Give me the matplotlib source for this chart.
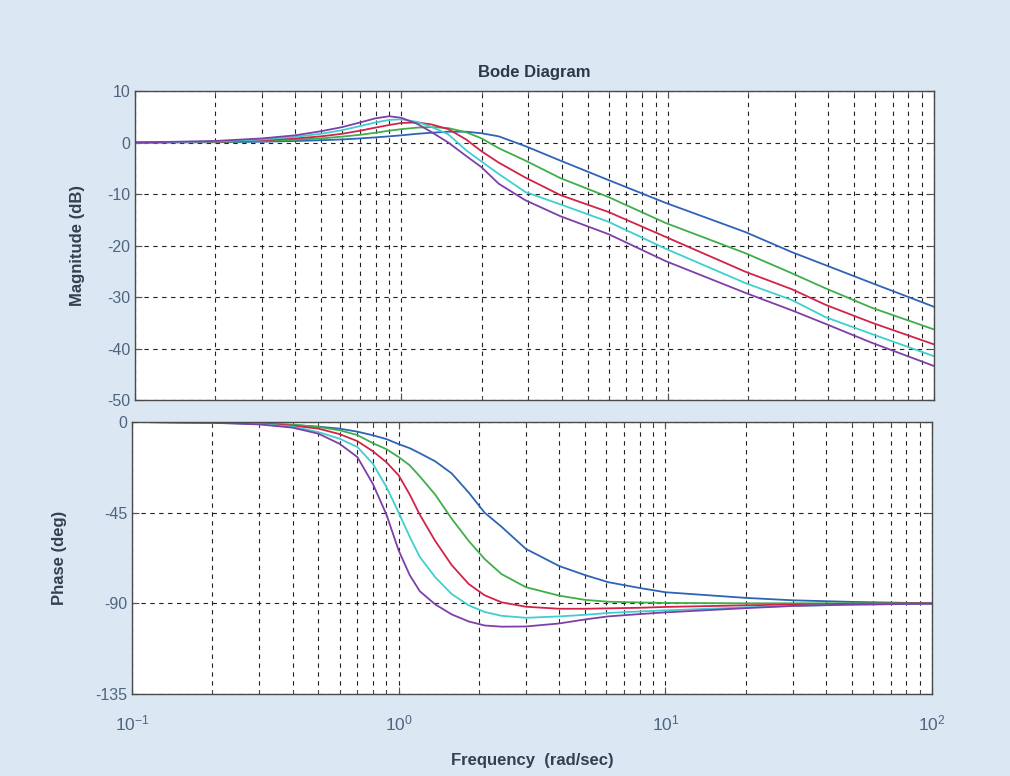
import matplotlib
matplotlib.use('Agg')
import matplotlib.pyplot as plt
from matplotlib.ticker import LogLocator, NullFormatter, FixedLocator

plt.rcParams['font.family'] = ['Liberation Sans', 'DejaVu Sans']
plt.rcParams['axes.unicode_minus'] = False

# frequency grids (rad/sec) where values were read
w_mag = [0.1, 0.2, 0.3, 0.4, 0.5, 0.6, 0.7, 0.8, 0.9, 1.0, 1.15, 1.3, 1.5, 1.75,
         2.0, 2.32, 2.92, 3.95, 6.0, 9.8, 19.6, 29.3, 39.1, 58.5, 100]
w_ph = [0.1, 0.2, 0.3, 0.4, 0.5, 0.6, 0.7, 0.8, 0.9, 1.0, 1.1, 1.2, 1.37, 1.58,
        1.83, 2.1, 2.43, 3.0, 4.0, 5.0, 6.1, 8.1, 10, 20, 30, 50, 100]

# magnitude (dB)
mag_blue = [0, 0.05, 0.15, 0.3, 0.45, 0.6, 0.8, 1.0, 1.2, 1.4, 1.7, 1.9, 2.1, 2.1,
            1.8, 1.2, -0.7, -3.5, -7.3, -11.7, -17.4, -21.3, -23.8, -27.3, -31.9]
mag_green = [0, 0.1, 0.3, 0.55, 0.8, 1.15, 1.5, 1.9, 2.3, 2.6, 2.9, 3.0, 2.8, 2.0,
             0.8, -1.1, -3.5, -6.9, -10.6, -15.6, -21.5, -25.4, -28.3, -32.1, -36.3]
mag_red = [0, 0.15, 0.45, 0.8, 1.2, 1.7, 2.3, 2.9, 3.4, 3.8, 3.9, 3.5, 2.6, 0.6,
           -1.7, -3.9, -6.8, -10.2, -13.5, -18.3, -25.1, -28.5, -31.5, -35.0, -39.2]
mag_cyan = [0, 0.2, 0.6, 1.1, 1.7, 2.4, 3.2, 3.9, 4.4, 4.5, 4.0, 3.0, 1.6, -1.5,
            -3.7, -6.1, -9.6, -12.0, -15.4, -20.6, -27.3, -30.6, -33.9, -37.2, -41.5]
mag_purple = [0, 0.3, 0.8, 1.4, 2.2, 3.0, 3.9, 4.7, 5.1, 4.8, 3.6, 2.0, 0.0, -2.6,
              -4.8, -8.0, -11.2, -14.3, -17.8, -23.0, -29.2, -32.6, -35.2, -38.9, -43.4]

# phase (deg)
ph_blue = [0, -0.3, -0.8, -1.5, -2.3, -3.3, -4.8, -6.6, -8.5, -11, -13, -15.5, -19.5,
           -25.5, -35, -45, -52, -63, -71.5, -76, -79.5, -82.5, -84.5, -87.3, -88.5,
           -89.3, -90]
ph_green = [0, -0.2, -0.6, -1.3, -2.5, -4.1, -6.5, -10.5, -13.5, -17.4, -21.5, -27,
            -36, -48, -59, -68, -75.5, -82, -86.2, -88.3, -89.2, -89.6, -89.8, -90,
            -90, -90, -90]
ph_red = [0, -0.2, -0.8, -1.8, -3.3, -6.0, -9.5, -14.5, -20, -26.5, -36, -46, -59,
          -71, -80.4, -86, -89.5, -91.7, -92.7, -92.7, -92.5, -92.2, -91.8, -91,
          -90.6, -90.3, -90]
ph_cyan = [0, -0.3, -1.0, -2.3, -5, -8.3, -12.4, -20.7, -32.3, -45, -57, -67, -77,
           -85.4, -91, -94.3, -96.2, -97.2, -96.5, -95.7, -94.8, -94, -93.5, -92,
           -91.3, -90.7, -90.2]
ph_purple = [0, -0.4, -1.2, -2.8, -5.8, -10.8, -17.4, -30.7, -46, -63.8, -76, -84,
             -90.5, -95.5, -99, -101, -101.6, -101.5, -100, -98, -96.5, -95.3, -94.5,
             -92.4, -91.3, -90.6, -90.2]

colors = ['#2e64b8', '#3fae49', '#d2234a', '#3fcfcf', '#7d3fa8']
mags = [mag_blue, mag_green, mag_red, mag_cyan, mag_purple]
phases = [ph_blue, ph_green, ph_red, ph_cyan, ph_purple]

mag_ticks = [10, 0, -10, -20, -30, -40, -50]
ph_ticks = [0, -45, -90, -135]

tick_color = '#4f6480'
label_color = '#34404e'
grid_kw = dict(color='#222222', linestyle=(0, (4, 4)), linewidth=0.8)

fig = plt.figure(figsize=(10.1, 7.76), dpi=100)
fig.patch.set_facecolor('#dbe7f3')

ax1 = fig.add_axes([0.1337, 0.4845, 0.7911, 0.3982])
ax2 = fig.add_axes([0.1307, 0.1057, 0.7921, 0.3505])

for ax in (ax1, ax2):
    ax.set_facecolor('white')
    ax.set_xscale('log')
    ax.set_xlim(0.1, 100)
    ax.xaxis.set_major_locator(LogLocator(base=10))
    ax.xaxis.set_minor_locator(LogLocator(base=10, subs=range(2, 10)))
    ax.xaxis.set_minor_formatter(NullFormatter())
    ax.grid(True, which='both', axis='x', **grid_kw)
    ax.grid(True, which='major', axis='y', **grid_kw)
    ax.tick_params(which='both', direction='in', colors='#555555',
                   labelcolor=tick_color, labelsize=11.5, top=True, right=True)
    ax.tick_params(which='major', length=5)
    ax.tick_params(which='minor', length=3)
    for sp in ax.spines.values():
        sp.set_color('#4a4a4a')
        sp.set_linewidth(1.0)

for m, c in zip(mags, colors):
    ax1.plot(w_mag, m, color=c, linewidth=1.3)
for p, c in zip(phases, colors):
    ax2.plot(w_ph, p, color=c, linewidth=1.3)

ax1.set_ylim(-50, 10)
ax1.yaxis.set_major_locator(FixedLocator(mag_ticks))
ax1.tick_params(labelbottom=False)
ax1.set_ylabel('Magnitude (dB)', fontsize=12, fontweight='bold', color=label_color,
               labelpad=16)
ax1.set_title('Bode Diagram', fontsize=12, fontweight='bold', color='#2c3845', pad=10)

ax2.set_ylim(-135, 0)
ax2.yaxis.set_major_locator(FixedLocator(ph_ticks))
ax2.set_ylabel('Phase (deg)', fontsize=12, fontweight='bold', color=label_color,
               labelpad=20)
ax2.set_xlabel('Frequency  (rad/sec)', fontsize=12, fontweight='bold',
               color=label_color, labelpad=14)
ax2.tick_params(axis='x', pad=14, labelsize=12.5)

fig.savefig('out.png', dpi=100, facecolor=fig.get_facecolor())
